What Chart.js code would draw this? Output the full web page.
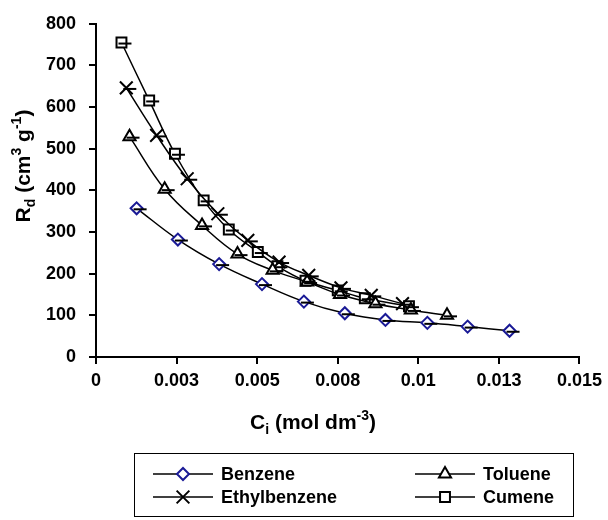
<!DOCTYPE html>
<html>
<head>
<meta charset="utf-8">
<script src="https://cdn.jsdelivr.net/npm/chart.js@4.4.1/dist/chart.umd.min.js"></script>
<style>
  html, body { margin: 0; padding: 0; background: #fff; }
  canvas { display: block; }
</style>
</head>
<body>
<canvas id="myChart" width="608" height="520"></canvas>
<script>
// sorption data: Ci (mol dm-3) vs Rd (cm3 g-1)
const benzeneC = [0.00126, 0.00254, 0.00382, 0.00515, 0.00645, 0.00772, 0.00898, 0.01028, 0.01153, 0.01283];
const benzeneR = [357, 282, 223, 175, 133, 105, 89, 82, 73, 63];

const tolueneC = [0.00104, 0.00213, 0.00329, 0.00439, 0.00548, 0.00655, 0.00757, 0.00867, 0.00977, 0.01089];
const tolueneR = [529, 403, 316, 247, 208, 180, 150, 128, 113, 100];

const ethylC = [0.00094, 0.00188, 0.00283, 0.00378, 0.00471, 0.00568, 0.00660, 0.00760, 0.00854, 0.00951];
const ethylR = [646, 532, 428, 344, 280, 228, 196, 166, 148, 128];

const cumeneC = [0.00079, 0.00165, 0.00245, 0.00334, 0.00412, 0.00502, 0.00563, 0.00650, 0.00750, 0.00834, 0.00971];
const cumeneR = [755, 616, 488, 376, 306, 252, 218, 183, 160, 141, 122];

const xTickLabels = ['0', '0.003', '0.005', '0.008', '0.01', '0.013', '0.015'];
const yTicks = [0, 100, 200, 300, 400, 500, 600, 700, 800];

const FONT = 'Liberation Sans, Arial, sans-serif';

function toPoints(xs, ys) {
    let pts = [];
    for (let i = 0; i < xs.length; i++) {
        pts.push({ x: xs[i], y: ys[i] });
    }
    return pts;
}

function series(label, xs, ys, style, color, radius) {
    return {
        label: label,
        data: toPoints(xs, ys),
        showLine: true,
        tension: 0.4,
        borderColor: '#000',
        borderWidth: 1.5,
        pointStyle: style,
        pointRadius: radius,
        pointHoverRadius: radius,
        pointBorderColor: color,
        pointBackgroundColor: '#fff',
        pointBorderWidth: 2
    };
}

// text with sub/superscript pieces
function drawRich(ctx, parts, x, y, size) {
    const small = Math.round(size * 0.66);
    let total = 0;
    parts.forEach(p => {
        ctx.font = 'bold ' + (p.sub || p.sup ? small : size) + 'px ' + FONT;
        p.w = ctx.measureText(p.t).width;
        total += p.w;
    });
    let cx = x - total / 2;
    ctx.textAlign = 'left';
    ctx.textBaseline = 'middle';
    parts.forEach(p => {
        ctx.font = 'bold ' + (p.sub || p.sup ? small : size) + 'px ' + FONT;
        let dy = p.sub ? size * 0.32 : (p.sup ? -size * 0.34 : 0);
        ctx.fillText(p.t, cx, y + dy);
        cx += p.w;
    });
}

// short horizontal bars on each marker
const dashPlugin = {
    id: 'dashes',
    afterDatasetsDraw(chart) {
        const ctx = chart.ctx;
        ctx.save();
        ctx.strokeStyle = '#000';
        ctx.lineWidth = 2;
        chart.data.datasets.forEach((ds, i) => {
            chart.getDatasetMeta(i).data.forEach(el => {
                ctx.beginPath();
                ctx.moveTo(el.x - 3, el.y + 1);
                ctx.lineTo(el.x + 10, el.y + 1);
                ctx.stroke();
            });
        });
        ctx.restore();
    }
};

const titlesPlugin = {
    id: 'titles',
    afterDraw(chart) {
        const ctx = chart.ctx;
        ctx.save();
        ctx.fillStyle = '#000';
        drawRich(ctx, [{ t: 'C' }, { t: 'i', sub: true }, { t: ' (mol dm' }, { t: '-3', sup: true }, { t: ')' }], 313, 423, 21);
        ctx.translate(24, 166);
        ctx.rotate(-Math.PI / 2);
        drawRich(ctx, [{ t: 'R' }, { t: 'd', sub: true }, { t: ' (cm' }, { t: '3', sup: true }, { t: ' g' }, { t: '-1', sup: true }, { t: ')' }], 0, 0, 21);
        ctx.restore();
    }
};

// boxed legend: line - marker - line, then the name
const legendPlugin = {
    id: 'boxLegend',
    afterDraw(chart) {
        const ctx = chart.ctx;
        const cols = [153, 415];
        const rows = [474, 497];
        ctx.save();
        ctx.strokeStyle = '#000';
        ctx.lineWidth = 1;
        ctx.strokeRect(134.5, 453.5, 439, 63);
        chart.data.datasets.forEach((ds, k) => {
            const x0 = cols[k % 2];
            const y = rows[Math.floor(k / 2)];
            ctx.strokeStyle = '#000';
            ctx.lineWidth = 1.5;
            ctx.beginPath();
            ctx.moveTo(x0, y);
            ctx.lineTo(x0 + 60, y);
            ctx.stroke();
            ctx.lineWidth = ds.pointBorderWidth;
            ctx.strokeStyle = ds.pointBorderColor;
            ctx.fillStyle = ds.pointBackgroundColor;
            Chart.helpers.drawPoint(ctx, { pointStyle: ds.pointStyle, radius: ds.pointRadius, borderWidth: ds.pointBorderWidth, rotation: 0 }, x0 + 30, y);
            ctx.fillStyle = '#000';
            ctx.font = 'bold 18px ' + FONT;
            ctx.textAlign = 'left';
            ctx.textBaseline = 'middle';
            ctx.fillText(ds.label, x0 + 68, y + 1);
        });
        ctx.restore();
    }
};

const ctx = document.getElementById('myChart').getContext('2d');
const myChart = new Chart(ctx, {
    type: 'scatter',
    data: {
        datasets: [
            series('Benzene', benzeneC, benzeneR, 'rectRot', '#1a1a96', 6),
            series('Toluene', tolueneC, tolueneR, 'triangle', '#000', 7),
            series('Ethylbenzene', ethylC, ethylR, 'crossRot', '#000', 9),
            series('Cumene', cumeneC, cumeneR, 'rect', '#000', 7)
        ]
    },
    options: {
        responsive: false,
        devicePixelRatio: 1,
        animation: false,
        layout: { padding: { left: 0, top: 23, right: 22, bottom: 0 } },
        plugins: {
            legend: { display: false },
            tooltip: { enabled: false }
        },
        scales: {
            x: {
                type: 'linear',
                min: 0,
                max: 0.015,
                afterFit: s => { s.height = 163; },
                afterBuildTicks: s => { s.ticks = xTickLabels.map((t, i) => ({ value: i * 0.0025 })); },
                ticks: {
                    callback: (v, i) => xTickLabels[i],
                    color: '#000',
                    font: { family: FONT, size: 18, weight: 'bold' },
                    padding: 6,
                    maxRotation: 0,
                    autoSkip: false
                },
                grid: { drawOnChartArea: false, color: '#000', lineWidth: 2, tickLength: 7 },
                border: { color: '#000', width: 2 }
            },
            y: {
                min: 0,
                max: 800,
                afterFit: s => { s.width = 96; },
                afterBuildTicks: s => { s.ticks = yTicks.map(v => ({ value: v })); },
                ticks: {
                    color: '#000',
                    font: { family: FONT, size: 18, weight: 'bold' },
                    padding: 13
                },
                grid: { drawOnChartArea: false, color: '#000', lineWidth: 2, tickLength: 7 },
                border: { color: '#000', width: 2 }
            }
        }
    },
    plugins: [dashPlugin, titlesPlugin, legendPlugin]
});
</script>
</body>
</html>
